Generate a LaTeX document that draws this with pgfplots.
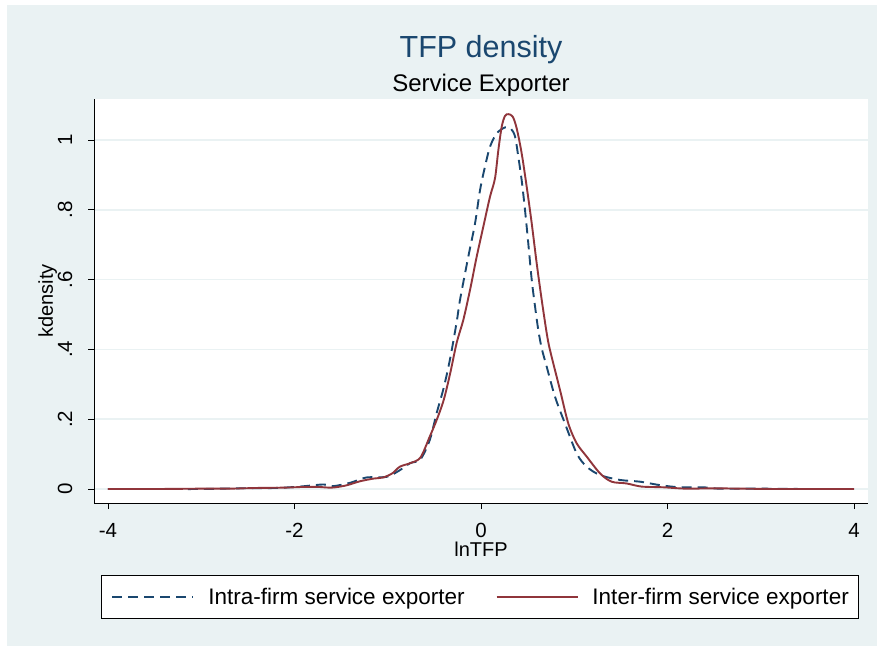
\documentclass[border=0pt]{standalone}
\usepackage{fontspec}
\setmainfont{Liberation Sans}
\usepackage{pgfplots}
\pgfplotsset{compat=1.18}
\definecolor{bg}{HTML}{EAF2F3}
\definecolor{snavy}{HTML}{1A476F}
\definecolor{smaroon}{HTML}{90353B}
\begin{document}
\begin{tikzpicture}[x=1pt,y=1pt]
\fill[white] (0,0) rectangle (877,646);
\fill[bg] (7,0) rectangle (877,641);
\node[anchor=base, text=snavy, font=\fontsize{30.5}{34}\selectfont] at (481,588) {TFP density};
\node[anchor=base, font=\fontsize{24}{28}\selectfont] at (481,554) {Service Exporter};
\begin{axis}[
  at={(94pt,143pt)}, anchor=south west,
  scale only axis, width=774pt, height=404pt,
  xmin=-4.15, xmax=4.15, ymin=-0.0401, ymax=1.1175,
  axis x line*=bottom, axis y line*=left,
  axis line style={black, line width=0.9pt, -},
  axis background/.style={fill=white},
  xtick={-4,-2,0,2,4}, xticklabels={-4,-2,0,2,4},
  ytick={0,0.2,0.4,0.6,0.8,1}, yticklabels={0,.2,.4,.6,.8,1},
  tick align=outside, major tick length=6pt,
  tick style={black, line width=0.9pt},
  ticklabel style={font=\fontsize{20.5}{24}\selectfont},
  xticklabel style={anchor=north, inner sep=0pt},
  yticklabel style={rotate=90, anchor=base, inner sep=0pt},
  xticklabel shift=14pt, yticklabel shift=16pt,
  ymajorgrids, major grid style={bg, line width=1.6pt},
  xlabel={lnTFP}, ylabel={kdensity},
  label style={font=\fontsize{20}{24}\selectfont},
  xlabel style={at={(axis description cs:0.5,-0.1312)}, anchor=base},
  ylabel style={at={(axis description cs:-0.053,0.5)}, anchor=base},
  legend columns=2,
  legend style={at={(axis description cs:0.009,-0.178)}, anchor=north west,
    draw=black, line width=0.8pt, fill=white,
    inner xsep=10pt, inner ysep=9.5pt,
    nodes={inner sep=0pt, inner ysep=3pt, font=\fontsize{22.5}{26}\selectfont},
    /tikz/every odd column/.append style={column sep=14pt},
    /tikz/every even column/.append style={column sep=31pt}},
  legend image code/.code={\draw[#1] (0pt,0pt) -- (81pt,0pt);},
]
\addplot[snavy, line width=1.9pt, dash pattern=on 10pt off 6pt, smooth] table {
x y
-4.0 0.000
-3.5 0.000
-3.0 0.000
-2.6 0.002
-2.2 0.003
-1.94 0.007
-1.69 0.013
-1.59 0.008
-1.4 0.018
-1.23 0.033
-1.01 0.035
-0.87 0.054
-0.76 0.074
-0.65 0.085
-0.55 0.140
-0.475 0.218
-0.40 0.290
-0.33 0.375
-0.26 0.480
-0.225 0.542
-0.136 0.666
-0.064 0.761
-0.01 0.857
0.043 0.924
0.097 0.981
0.168 1.019
0.257 1.036
0.318 1.033
0.365 1.010
0.40 0.952
0.436 0.885
0.472 0.799
0.507 0.704
0.544 0.599
0.58 0.522
0.614 0.456
0.651 0.403
0.705 0.350
0.794 0.264
0.90 0.188
1.026 0.102
1.133 0.064
1.276 0.040
1.49 0.026
1.705 0.021
1.92 0.011
2.13 0.005
2.38 0.005
2.56 0.001
3.0 0.001
3.5 0.000
4.0 0.000
};
\addlegendentry{Intra-firm service exporter}
\addplot[smaroon, line width=1.9pt, smooth] table {
x y
-4.0 0.000
-3.5 0.000
-3.0 0.001
-2.7 0.001
-2.4 0.003
-2.1 0.004
-1.9 0.006
-1.75 0.006
-1.6 0.004
-1.45 0.010
-1.3 0.022
-1.15 0.030
-1.05 0.033
-0.95 0.045
-0.87 0.064
-0.76 0.074
-0.65 0.090
-0.55 0.150
-0.475 0.198
-0.40 0.255
-0.33 0.332
-0.26 0.420
-0.19 0.484
-0.118 0.570
-0.046 0.666
0.025 0.752
0.097 0.838
0.15 0.890
0.186 0.971
0.222 1.038
0.257 1.069
0.293 1.074
0.34 1.067
0.383 1.033
0.436 0.962
0.49 0.866
0.544 0.761
0.597 0.647
0.651 0.542
0.705 0.446
0.74 0.398
0.847 0.284
0.936 0.188
1.026 0.131
1.133 0.093
1.276 0.045
1.40 0.021
1.56 0.016
1.72 0.007
1.95 0.005
2.2 0.001
2.5 0.002
2.8 0.001
3.2 0.000
4.0 0.000
};
\addlegendentry{Inter-firm service exporter}
\end{axis}
\pgfresetboundingbox
\path (0,0) rectangle (877,646);
\end{tikzpicture}
\end{document}
